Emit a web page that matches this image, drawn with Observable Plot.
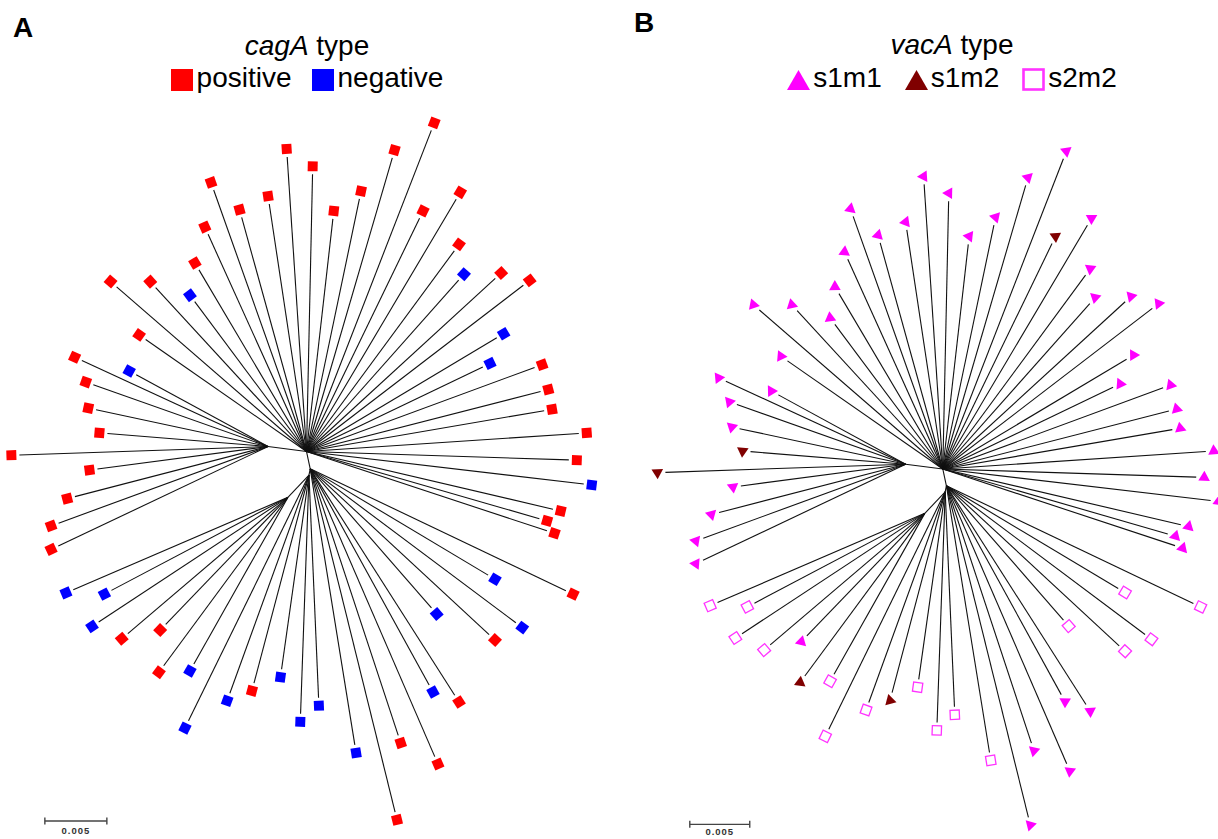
<!DOCTYPE html>
<html>
<head>
<meta charset="utf-8">
<script src="https://cdn.jsdelivr.net/npm/d3@7"></script>
<script src="https://cdn.jsdelivr.net/npm/@observablehq/plot@0.6"></script>
<style>
html,body{margin:0;padding:0;background:#fff;}
#page{position:relative;width:1218px;height:839px;overflow:hidden;font-family:"Liberation Sans",Arial,sans-serif;color:#000;}
.t{position:absolute;font-size:28px;line-height:28px;white-space:nowrap;}
.lab{font-weight:bold;}
.legend{position:absolute;display:flex;justify-content:center;align-items:flex-start;font-size:28px;line-height:28px;white-space:nowrap;}
.item{display:flex;align-items:flex-start;}
.plot{position:absolute;}
.plot text{letter-spacing:1px;}
</style>
</head>
<body>
<div id="page"></div>
<script>
// ---------------- DATA ----------------
// Unrooted neighbour-joining tree, coordinates in units of 0.001 substitutions/site
// Internal nodes
const nodeId     = ["R", "R2", "L1", "LL", "LL2"];
const nodeX      = [0.0, 0.3, -3.1, 0.2, -1.5];
const nodeY      = [0.0, -1.4, 0.4, -1.9, -3.7];
const nodeParent = [null, "R", "R", "R2", "LL"];

// Leaves (66 isolates)
const leafX = [-23.8,-17.5,-19.3,-20.6,-20.6,-16.7,-17.6,-17.8,-18.7,-14.3,
  -13.5,-15.8,-12.6,-9.4,-9.0,-8.2,-7.7,-5.4,-3.1,-1.6,
  0.5,2.2,4.4,7.1,10.3,9.4,12.4,12.3,12.7,15.7,
  18.0,15.9,14.8,19.0,19.5,19.8,22.6,21.8,23.0,20.5,
  19.4,20.0,
  21.5,15.2,17.4,15.2,10.5,12.3,10.2,10.6,7.6,7.3,4.0,
  1.0,-0.5,-2.1,-4.4,-6.4,-9.8,
  -9.4,-11.9,-11.8,-14.9,-17.3,-16.3,-19.4];
const leafY = [-0.3,-1.5,-3.8,-6.0,-7.9,1.5,3.5,5.6,7.6,6.5,
  9.4,13.7,13.7,12.6,15.2,18.1,21.7,19.5,20.6,24.4,
  23.0,19.4,21.0,24.3,26.5,19.4,20.9,16.7,14.3,14.4,
  13.8,9.5,7.1,7.0,5.0,3.4,1.5,-0.7,-2.7,-4.8,
  -5.6,-6.6,
  -11.5,-10.3,-14.2,-15.2,-13.1,-20.2,-19.4,-25.2,-23.5,-29.7,-24.3,
  -20.5,-21.8,-18.2,-19.3,-20.1,-22.3,
  -17.7,-17.8,-14.4,-15.1,-14.1,-11.5,-11.4];
const leafParent = [
  ...Array(10).fill("L1"),
  ...Array(32).fill("R"),
  ...Array(11).fill("R2"),
  ...Array(6).fill("LL"),
  ...Array(7).fill("LL2")];

const P = "positive", N = "negative";
const cagA = [P,P,P,P,P,P,P,P,P,N,
  P,P,P,N,P,P,P,P,P,P,
  P,P,P,P,P,P,P,P,N,P,
  P,N,N,P,P,P,P,P,N,P,
  P,P,
  P,N,N,P,N,P,N,P,P,P,N,
  N,N,N,P,N,N,
  N,P,P,P,N,N,N];

const a = "s1m1", b = "s1m2", c = "s2m2";
const vacA = [b,a,a,a,a,b,a,a,a,a,
  a,a,a,a,a,a,a,a,a,a,
  a,a,a,a,a,b,a,a,a,a,
  a,a,a,a,a,a,a,a,a,a,
  a,a,
  c,c,c,c,c,a,a,a,a,a,c,
  c,c,c,b,c,c,
  c,b,a,c,c,c,c];

const cagTypes = ["positive", "negative"];
const cagColors = ["#ff0000", "#0000ff"];
const vacTypes = ["s1m1", "s1m2", "s2m2"];
const vacColors = ["#ff00ff", "#800000", "#ff33ff"];
const scaleBarValue = 0.005;

// ---------------- TREE BUILD ----------------
const nodePos = {};
nodeId.forEach((id, i) => nodePos[id] = {x: nodeX[i], y: nodeY[i]});
const edges = nodeId.map((id, i) => nodeParent[i] ? {
  x1: nodePos[nodeParent[i]].x, y1: nodePos[nodeParent[i]].y, x2: nodeX[i], y2: nodeY[i]} : null).filter(Boolean);
const leaves = leafX.map((x, i) => {
  const p = nodePos[leafParent[i]];
  const y = leafY[i];
  const dx = x - p.x, dy = y - p.y, len = Math.hypot(dx, dy);
  return {x, y, px: p.x, py: p.y, ux: dx / len, uy: dy / len,
    rotate: -Math.atan2(dy, dx) * 180 / Math.PI, cagA: cagA[i], vacA: vacA[i]};
});

function treePlot(L, markerMarks) {
  const k = L.k;
  const gap = 8 / k;
  const sb = {x: -21.1, y: -29.8 + L.barShift / k, len: scaleBarValue * 1000};
  const h = 3.5 / k;
  const sbSegs = [
    {x1: sb.x, y1: sb.y, x2: sb.x + sb.len, y2: sb.y},
    {x1: sb.x, y1: sb.y - h, x2: sb.x, y2: sb.y + h},
    {x1: sb.x + sb.len, y1: sb.y - h, x2: sb.x + sb.len, y2: sb.y + h}];
  return Plot.plot({
    width: L.width, height: L.height, margin: 0,
    style: {background: "transparent", fontFamily: "Liberation Sans, Arial, sans-serif", overflow: "visible"},
    x: {domain: [-L.rootX / k, (L.width - L.rootX) / k], axis: null},
    y: {domain: [-(L.height - L.rootY) / k, L.rootY / k], axis: null},
    color: L.color,
    marks: [
      Plot.link(edges, {x1: "x1", y1: "y1", x2: "x2", y2: "y2", stroke: "#111", strokeWidth: 1.1}),
      Plot.link(leaves, {x1: "px", y1: "py", x2: d => d.x - d.ux * gap, y2: d => d.y - d.uy * gap,
        stroke: "#111", strokeWidth: 1.1}),
      ...markerMarks,
      Plot.link(sbSegs, {x1: "x1", y1: "y1", x2: "x2", y2: "y2", stroke: "#444", strokeWidth: 1.4}),
      Plot.text([sb], {x: d => d.x + d.len / 2, y: d => d.y, text: () => String(scaleBarValue),
        dy: L.labelDy, fontSize: 9.5, fontWeight: "bold", fill: "#333"})
    ]
  });
}

const page = document.getElementById("page");

// Headers (HTML)
function addText(html, style, cls) {
  const d = document.createElement("div");
  d.className = cls || "t";
  d.innerHTML = html;
  Object.assign(d.style, style);
  page.appendChild(d);
  return d;
}
addText("A", {left: "13px", top: "14px"}, "t lab");
addText("B", {left: "634px", top: "9px"}, "t lab");
addText("<i>cagA</i> type", {left: "107px", width: "400px", textAlign: "center", top: "32px"});
addText("<i>vacA</i> type", {left: "752px", width: "400px", textAlign: "center", top: "31px"});

function swatchSquare(color, filled) {
  return filled
    ? `<svg width="22" height="22" style="margin-top:5px;margin-right:4px"><rect x="0" y="0" width="22" height="22" fill="${color}"/></svg>`
    : `<svg width="23" height="23" style="margin-top:4px;margin-right:3px"><rect x="1.5" y="1.5" width="20" height="20" fill="#fff" stroke="${color}" stroke-width="2.6"/></svg>`;
}
function swatchTriangle(color) {
  return `<svg width="23" height="20" style="margin-top:6px;margin-right:3px"><polygon points="11.5,0 23,20 0,20" fill="${color}"/></svg>`;
}
addText(cagTypes.map((t, i) => `<span class="item">${swatchSquare(cagColors[i], true)}<span>${t}</span></span>`).join(""),
  {left: "107px", width: "400px", top: "64px", gap: "20px"}, "legend");
addText(vacTypes.map((t, i) => `<span class="item">${t === "s2m2" ? swatchSquare(vacColors[i], false) : swatchTriangle(vacColors[i])}<span>${t}</span></span>`).join(""),
  {left: "752px", width: "400px", top: "64px", gap: "23px"}, "legend");

// Panel A
const LA = {width: 615, height: 739, rootX: 306, rootY: 351, k: 62 / 5, barShift: 0, labelDy: 9.5,
  color: {domain: cagTypes, range: cagColors}};
const plotA = treePlot(LA, [
  Plot.dot(leaves, {x: "x", y: "y", symbol: "square", r: 5.6, fill: "cagA", rotate: "rotate"})
]);
plotA.classList.add("plot");
Object.assign(plotA.style, {left: "0px", top: "100px"});
page.appendChild(plotA);

// Panel B
const LB = {width: 598, height: 739, rootX: 322.3, rootY: 368.5, k: 62 / 5 * 0.967, barShift: 2, labelDy: 7.5,
  color: {domain: vacTypes, range: vacColors}};
const plotB = treePlot(LB, [
  Plot.dot(leaves.filter(d => d.vacA !== "s2m2"), {x: "x", y: "y", symbol: "triangle", r: 4.3, fill: "vacA", rotate: "rotate"}),
  Plot.dot(leaves.filter(d => d.vacA === "s2m2"), {x: "x", y: "y", symbol: "square", r: 5.2, fill: "#fff",
    stroke: "vacA", strokeWidth: 1.3, rotate: "rotate"})
]);
plotB.classList.add("plot");
Object.assign(plotB.style, {left: "620px", top: "100px"});
page.appendChild(plotB);
</script>
</body>
</html>
